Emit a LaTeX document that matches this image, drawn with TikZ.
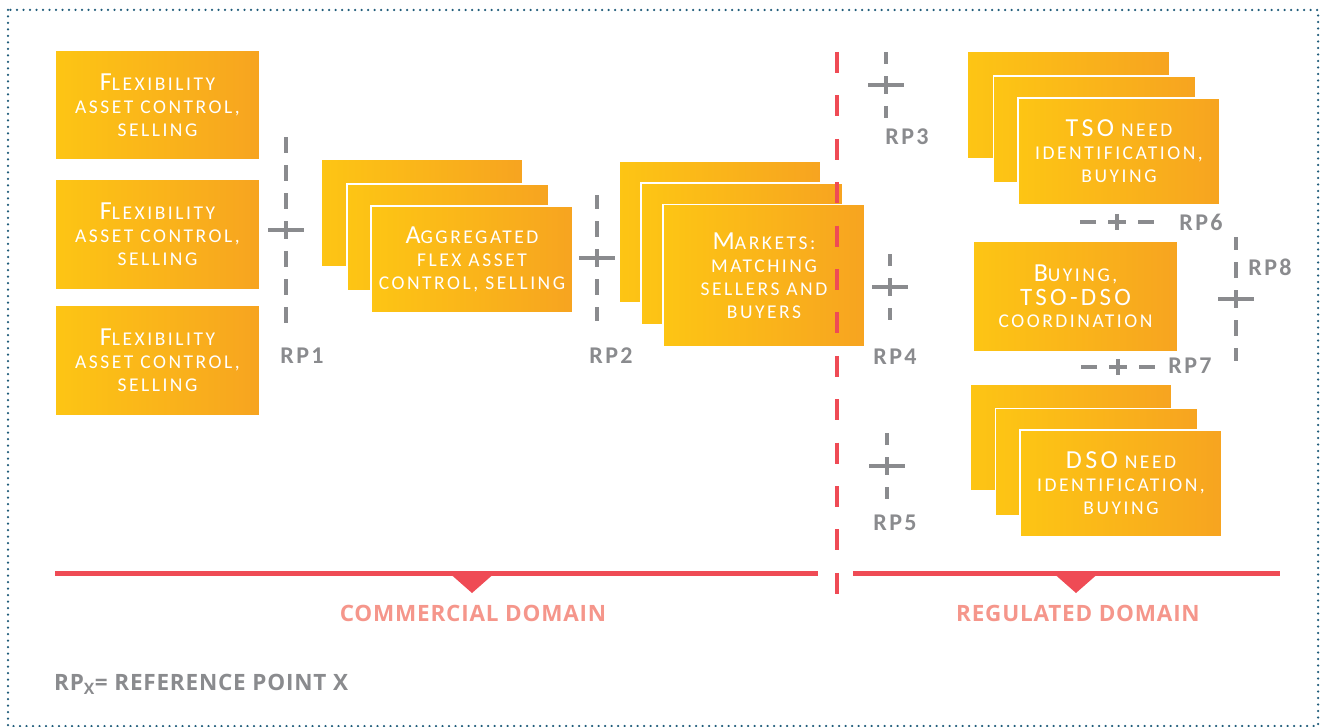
\documentclass[tikz,border=0pt]{standalone}
\usepackage{fontspec}
\setmainfont{Carlito}
\newfontfamily\domfont{Open Sans}

\definecolor{boxL}{HTML}{FDC514}
\definecolor{boxR}{HTML}{F7A420}
\definecolor{rpgrey}{HTML}{8A8B8E}
\definecolor{domred}{HTML}{EF4B55}
\definecolor{domtext}{HTML}{F5968B}
\definecolor{framecol}{HTML}{1F5C7A}

\newcommand\ini[1]{{\fontsize{26}{23}\selectfont #1}}

\tikzset{
  flexbox/.style={rectangle, left color=boxL, right color=boxR, draw=white,
    line width=1.5pt, text=white, align=center, inner sep=0pt,
    minimum width=202pt, minimum height=107pt,
    font=\fontsize{19.5}{23}\selectfont\addfontfeature{LetterSpace=13}},
  rpline/.style={rpgrey, line width=4.5pt, dash pattern=on 16pt off 12pt, dash phase=7pt},
  rpbar/.style={rpgrey, line width=4.5pt},
  rplabel/.style={text=rpgrey, font=\fontsize{24}{24}\selectfont\bfseries\addfontfeature{LetterSpace=10}},
  domlabel/.style={text=domtext, font=\domfont\bfseries\fontsize{22.5}{22}\selectfont\addfontfeature{LetterSpace=3.5}}
}

\begin{document}
\begin{tikzpicture}[x=1pt, y=-1pt]
    \useasboundingbox (0,0) rectangle (1324,727);
    \draw[framecol, line width=2.5pt, line cap=round, dash pattern=on 0pt off 6.5pt]
        (8,10) rectangle (1318,726);

    % sellers
    \node[flexbox, minimum width=205pt, minimum height=110pt] (sell1) at (157.5,105)
        {\ini{F}LEXIBILITY\\ASSET CONTROL,\\SELLING};
    \node[flexbox, minimum width=205pt, minimum height=110pt] (sell2) at (157.5,234.5)
        {\ini{F}LEXIBILITY\\ASSET CONTROL,\\SELLING};
    \node[flexbox, minimum width=205pt, minimum height=110pt] (sell3) at (157.5,360.5)
        {\ini{F}LEXIBILITY\\ASSET CONTROL,\\SELLING};

    % aggregator stack
    \node[flexbox] (agg3) at (422,213) {};
    \node[flexbox] (agg2) at (448,237.5) {};
    \node[flexbox] (agg1) at (472,259.5) {\ini{A}GGREGATED\\FLEX ASSET\\CONTROL, SELLING};

    % market stack
    \node[flexbox, minimum height=142pt] (mkt3) at (720,232) {};
    \node[flexbox, minimum height=142pt] (mkt2) at (742,254) {};
    \node[flexbox, minimum height=142pt] (mkt1) at (764,275.5)
        {\ini{M}ARKETS:\\MATCHING\\SELLERS AND\\BUYERS};

    % TSO stack
    \node[flexbox] (tso3) at (1068.5,105) {};
    \node[flexbox] (tso2) at (1094.5,129.5) {};
    \node[flexbox] (tso1) at (1119,151.5) {\ini{TSO} NEED\\IDENTIFICATION,\\BUYING};

    % coordination
    \node[flexbox, minimum width=205pt, minimum height=111pt] (coord) at (1075.5,296.5)
        {\ini{B}UYING,\\[1pt]{\fontsize{25}{23}\selectfont TSO-DSO}\\[-1pt]COORDINATION};

    % DSO stack
    \node[flexbox] (dso3) at (1071,437.5) {};
    \node[flexbox] (dso2) at (1096.5,462) {};
    \node[flexbox] (dso1) at (1121,483.5) {\ini{DSO} NEED\\IDENTIFICATION,\\BUYING};

    % reference points
    \draw[rpline] (286,230) -- ++(0,-98) (286,230) -- ++(0,98);
    \draw[rpbar] (268,230) -- (304,230);
    \node[rplabel] (rp1) at (302,356) {RP1};

    \draw[rpline] (597,258) -- ++(0,-63) (597,258) -- ++(0,63);
    \draw[rpbar] (579,258) -- (615,258);
    \node[rplabel] (rp2) at (611,356) {RP2};

    \draw[rpline] (886,85) -- ++(0,-33) (886,85) -- ++(0,33);
    \draw[rpbar] (868,85) -- (904,85);
    \node[rplabel] (rp3) at (907,137) {RP3};

    \draw[rpline] (890,287) -- ++(0,-33) (890,287) -- ++(0,33);
    \draw[rpbar] (872,287) -- (908,287);
    \node[rplabel] (rp4) at (895,357) {RP4};

    \draw[rpline] (887,466) -- ++(0,-33) (887,466) -- ++(0,33);
    \draw[rpbar] (869,466) -- (905,466);
    \node[rplabel] (rp5) at (895,523) {RP5};

    \draw[rpline] (1117,222) -- ++(-38,0) (1117,222) -- ++(38,0);
    \draw[rpbar] (1117,214) -- (1117,230);
    \node[rplabel] (rp6) at (1201,222) {RP6};

    \draw[rpline] (1118,367) -- ++(-38,0) (1118,367) -- ++(38,0);
    \draw[rpbar] (1118,359) -- (1118,375);
    \node[rplabel] (rp7) at (1190,366) {RP7};

    \draw[rpline] (1236,299) -- ++(0,-62) (1236,299) -- ++(0,62);
    \draw[rpbar] (1218,299) -- (1254,299);
    \node[rplabel] (rp8) at (1270,267) {RP8};

    % domains
    \draw[domred, line width=4.5pt, dash pattern=on 21pt off 22.4pt] (837,52) -- (837,594);
    \draw[domred, line width=5pt] (55,573) -- (818,573);
    \draw[domred, line width=5pt] (853,573) -- (1280,573);
    \fill[domred] (447,571) -- (497,571) -- (472,593) -- cycle;
    \fill[domred] (1051,571) -- (1101,571) -- (1076,593) -- cycle;
    \node[domlabel] (comm) at (473,613) {COMMERCIAL DOMAIN};
    \node[domlabel] (reg) at (1078,613) {REGULATED DOMAIN};

    \node[domlabel, text=rpgrey, anchor=west, inner sep=0pt] (note) at (54,684)
        {RP\textsubscript{X}= REFERENCE POINT X};
\end{tikzpicture}
\end{document}
